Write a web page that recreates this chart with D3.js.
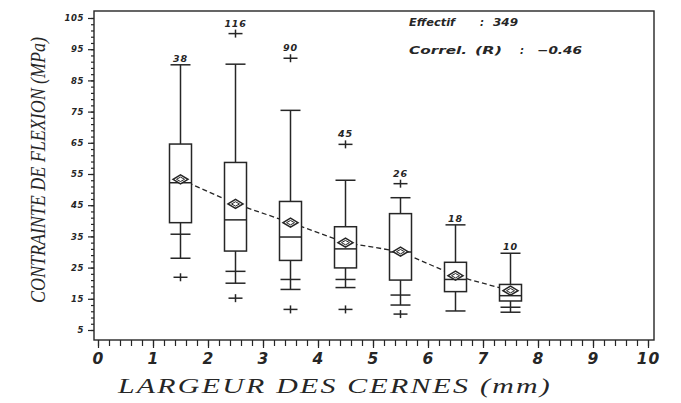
<!DOCTYPE html>
<html><head><meta charset="utf-8">
<script src="https://cdn.jsdelivr.net/npm/d3@7"></script>
<style>body{margin:0;background:#fff}svg{display:block}</style>
</head><body>
<svg id="c" width="681" height="403"></svg>
<script>
const positions   = [1.5, 2.5, 3.5, 4.5, 5.5, 6.5, 7.5];
const counts      = ["38", "116", "90", "45", "26", "18", "10"];
const whiskerHigh = [90.0, 90.2, 75.4, 53.0, 47.4, 38.7, 29.6];
const q3          = [64.6, 58.7, 46.2, 38.1, 42.3, 26.7, 19.6];
const medians     = [52.2, 40.3, 34.8, 31.0, 30.0, 21.2, 16.0];
const means       = [53.3, 45.4, 39.4, 33.0, 30.1, 22.4, 17.6];
const q1          = [39.4, 30.3, 27.3, 24.9, 21.0, 17.3, 14.3];
const whiskerLow  = [28.0, 20.0, 18.0, 18.6, 13.0, 11.1, 10.7];
const lowMarks    = [[35.7], [23.8], [21.2], [21.2], [16.2], [], [12.3]];
const highOutliers = [null, 100.0, 92.1, 64.5, 51.9, null, null];
const lowOutliers  = [21.9, 15.2, 11.6, 11.6, 10.1, null, null];
const yTicks = [5, 15, 25, 35, 45, 55, 65, 75, 85, 95, 105];
const xTicks = [0, 1, 2, 3, 4, 5, 6, 7, 8, 9, 10];
const statN = "349", statR = "\u22120.46";

const svg = d3.select("#c");
const x = d3.scaleLinear().domain([0, 10]).range([98, 648]);
const y = d3.scaleLinear().domain([5, 105]).range([330, 18]);
const ink = "#262626";
const frame = {l: 94, r: 654, t: 11, b: 340};

svg.append("rect").attr("x", frame.l).attr("y", frame.t)
  .attr("width", frame.r - frame.l).attr("height", frame.b - frame.t)
  .attr("fill", "none").attr("stroke", ink).attr("stroke-width", 1.4);

// Y axis
const gy = svg.append("g").attr("transform", `translate(${frame.l},0)`);
gy.call(d3.axisLeft(y).tickValues(d3.range(5, 106, 2)).tickSize(3).tickFormat(""));
gy.append("g").call(d3.axisLeft(y).tickValues(yTicks).tickSize(6).tickPadding(4)
  .tickFormat(d => d));
gy.selectAll(".domain").remove();
gy.selectAll("line").attr("stroke", ink).attr("stroke-width", 1.2);
gy.selectAll("text").attr("font-family", "DejaVu Sans").attr("font-style", "italic")
  .attr("font-weight", "bold").attr("font-size", 8.5).attr("fill", ink)
  .attr("letter-spacing", 0.6);

// X axis
const gx = svg.append("g").attr("transform", `translate(0,${frame.b})`);
gx.call(d3.axisBottom(x).tickValues(d3.range(0, 10.01, 0.2)).tickSize(6).tickFormat(""));
gx.append("g").call(d3.axisBottom(x).tickValues(xTicks).tickSize(8).tickPadding(5)
  .tickFormat(d => d));
gx.selectAll(".domain").remove();
gx.selectAll("line").attr("stroke", ink).attr("stroke-width", 1.2);
gx.selectAll("text").attr("font-family", "DejaVu Sans").attr("font-style", "italic")
  .attr("font-weight", "bold").attr("font-size", 15.5).attr("fill", ink)
  .attr("letter-spacing", 1);

// Titles
svg.append("text").attr("transform", "translate(45,170) rotate(-90)")
  .attr("text-anchor", "middle").attr("font-family", "Liberation Serif")
  .attr("font-style", "italic").attr("font-size", 20).attr("fill", ink)
  .attr("textLength", 266).attr("lengthAdjust", "spacingAndGlyphs")
  .text("CONTRAINTE DE FLEXION (MPa)");
svg.append("text").attr("x", 335).attr("y", 393)
  .attr("text-anchor", "middle").attr("font-family", "Liberation Serif")
  .attr("font-style", "italic").attr("font-size", 20).attr("fill", ink)
  .attr("letter-spacing", 1.5)
  .attr("textLength", 434).attr("lengthAdjust", "spacingAndGlyphs")
  .text("LARGEUR DES CERNES (mm)");

// Stats text
const st = svg.append("g").attr("font-family", "DejaVu Sans").attr("font-style", "italic")
  .attr("font-weight", "bold").attr("font-size", 10).attr("fill", ink);
const stat = (tx, ty, s, len) => {
  const t = st.append("text").attr("x", tx).attr("y", ty).text(s);
  if (len) t.attr("textLength", len).attr("lengthAdjust", "spacingAndGlyphs");
};
stat(409, 26, "Effectif", 46);
stat(480, 26, ":");
stat(493, 26, statN, 25);
stat(409, 54, "Correl.", 58);
stat(475, 54, "(R)", 27);
stat(520, 54, ":");
stat(537, 54, statR, 45);

// Mean dashed line
svg.append("path")
  .datum(positions.map((p, i) => [p, means[i]]))
  .attr("d", d3.line().x(d => x(d[0])).y(d => y(d[1])))
  .attr("fill", "none").attr("stroke", ink).attr("stroke-width", 1.3)
  .attr("stroke-dasharray", "5,3");

const bw = 22, cw = 20, pw = 14, ph = 8;
const plus = (g, cx, cy) => {
  g.append("line").attr("x1", cx - pw / 2).attr("x2", cx + pw / 2).attr("y1", cy).attr("y2", cy);
  g.append("line").attr("x1", cx).attr("x2", cx).attr("y1", cy - ph / 2).attr("y2", cy + ph / 2);
};
positions.forEach((p, i) => {
  const cx = x(p);
  const g = svg.append("g").attr("stroke", ink).attr("stroke-width", 1.5).attr("fill", "none");
  g.append("line").attr("x1", cx).attr("x2", cx).attr("y1", y(whiskerHigh[i])).attr("y2", y(q3[i]));
  g.append("line").attr("x1", cx).attr("x2", cx).attr("y1", y(q1[i])).attr("y2", y(whiskerLow[i]));
  g.append("line").attr("x1", cx - cw / 2).attr("x2", cx + cw / 2)
    .attr("y1", y(whiskerHigh[i])).attr("y2", y(whiskerHigh[i]));
  g.append("line").attr("x1", cx - cw / 2).attr("x2", cx + cw / 2)
    .attr("y1", y(whiskerLow[i])).attr("y2", y(whiskerLow[i]));
  lowMarks[i].forEach(v => g.append("line").attr("x1", cx - cw / 2).attr("x2", cx + cw / 2)
    .attr("y1", y(v)).attr("y2", y(v)));
  g.append("rect").attr("x", cx - bw / 2).attr("y", y(q3[i]))
    .attr("width", bw).attr("height", y(q1[i]) - y(q3[i])).attr("fill", "#fff");
  g.append("line").attr("x1", cx - bw / 2).attr("x2", cx + bw / 2)
    .attr("y1", y(medians[i])).attr("y2", y(medians[i]));
  const my = y(means[i]);
  g.append("path").attr("d", `M${cx - 7.5},${my}L${cx},${my - 4.5}L${cx + 7.5},${my}L${cx},${my + 4.5}Z`)
    .attr("fill", "#fff");
  g.append("path").attr("d", `M${cx - 4},${my}L${cx},${my - 2.2}L${cx + 4},${my}L${cx},${my + 2.2}Z`)
    .attr("stroke-width", 1);
  if (highOutliers[i] != null) plus(g, cx, y(highOutliers[i]));
  if (lowOutliers[i] != null) plus(g, cx, y(lowOutliers[i]));
  const top = highOutliers[i] != null ? y(highOutliers[i]) - ph / 2 : y(whiskerHigh[i]);
  svg.append("text").attr("x", cx).attr("y", top - 3).attr("text-anchor", "middle")
    .attr("font-family", "DejaVu Sans").attr("font-style", "italic").attr("font-weight", "bold")
    .attr("font-size", 9.5).attr("fill", ink).attr("letter-spacing", 0.8).text(counts[i]);
});
</script>
</body></html>
